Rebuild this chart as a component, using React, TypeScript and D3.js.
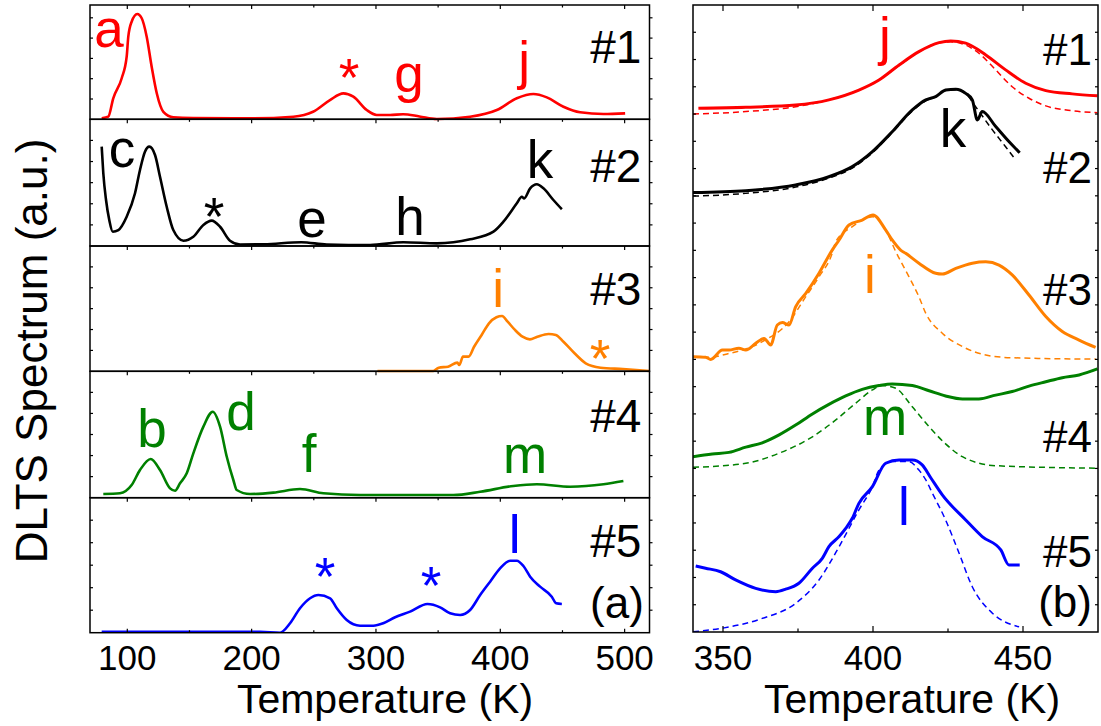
import React from "react";
import * as d3 from "d3";

type Pt = [number, number];

const FONT = "'Liberation Sans', Arial, Helvetica, sans-serif";

// ---------- Panel (a): DLTS spectra, temperature (K) vs normalized signal ----------
const sample1A: Pt[] = [[79.4,0.009],[84.7,0.023],[88.7,0.184],[95.5,0.359],[99.5,0.548],[100.8,0.723],[103.5,0.854],[108,0.921],[111.6,0.884],[115.6,0.723],[119.6,0.46],[123.7,0.228],[129,0.066],[137,0.018],[153,0.011],[200,0.008],[233.6,0.023],[249.4,0.066],[263,0.168],[273.8,0.227],[281.8,0.198],[292.6,0.081],[300.6,0.038],[311.3,0.038],[321.8,0.044],[335,0.025],[348.9,0.003],[375.7,0.023],[397.2,0.081],[413.3,0.184],[426.6,0.221],[437.4,0.192],[450.8,0.11],[464.2,0.061],[483,0.046],[500.4,0.052]];
const sample2A: Pt[] = [[79.4,0.784],[80.7,0.574],[82.9,0.363],[85.5,0.205],[88.3,0.113],[92.8,0.126],[99.5,0.231],[106.2,0.416],[110.2,0.6],[114.2,0.744],[117.7,0.784],[122.3,0.718],[126.3,0.547],[131.7,0.31],[137,0.126],[145.1,0.042],[153.1,0.073],[161.2,0.166],[167.9,0.2],[174.6,0.152],[182.6,0.042],[190.7,0.012],[210,0.014],[240,0.03],[260.4,0.012],[295.3,0.008],[322.1,0.03],[348.9,0.021],[375.7,0.053],[394.5,0.113],[402.5,0.192],[413.3,0.337],[417.3,0.389],[419.2,0.376],[424,0.455],[429.4,0.487],[434.7,0.455],[442.7,0.363],[449.5,0.29]];
const sample3A: Pt[] = [[301.2,0.002],[346.1,0.002],[350.5,0.029],[358,0.037],[365.5,0.069],[367,0.05],[370,0.117],[374.5,0.117],[378.9,0.196],[385,0.29],[390.9,0.383],[396.9,0.431],[401.4,0.441],[405.9,0.396],[411.8,0.33],[417.9,0.276],[423.8,0.255],[429.8,0.276],[438.8,0.298],[444.7,0.29],[450.8,0.236],[459.7,0.144],[468.7,0.064],[480.6,0.029],[498.6,0.018],[520,0.002]];
const sample4A: Pt[] = [[80.7,0.029],[94.1,0.035],[103.5,0.1],[110.2,0.219],[118.8,0.306],[126.3,0.219],[134.4,0.074],[138.4,0.055],[142.4,0.114],[147.8,0.193],[153.1,0.351],[161.2,0.562],[168.7,0.68],[174.6,0.562],[180,0.324],[185.3,0.14],[188,0.061],[198.7,0.029],[217.5,0.04],[238.9,0.069],[257.7,0.035],[287.2,0.021],[362.3,0.021],[383.8,0.047],[410.5,0.093],[429.4,0.106],[456.2,0.087],[483,0.106],[499,0.132]];
const sample5A: Pt[] = [[79.4,0.007],[206.8,0.007],[222.9,0],[230.9,0.07],[238.9,0.181],[247,0.255],[253.7,0.279],[263.1,0.255],[268.5,0.181],[276.5,0.094],[287.2,0.052],[297.9,0.052],[305.9,0.07],[315.4,0.114],[327.4,0.156],[341.4,0.213],[351.6,0.188],[359.6,0.144],[367.7,0.131],[375.7,0.168],[383.8,0.279],[391.8,0.378],[399.8,0.477],[407.9,0.533],[413.3,0.533],[418.6,0.494],[424,0.415],[432,0.341],[441.4,0.267],[444.9,0.218],[449.5,0.213]];

// ---------- Panel (b): zoom 340-475 K, measured (solid) and fitted (dashed) ----------
const sample1B: Pt[] = [[341.8,19.21],[357.6,19.25],[374.2,19.33],[385.3,19.52],[395.3,19.88],[402,20.25],[408.7,20.8],[415.3,21.29],[422,21.62],[425.9,21.68],[430.9,21.6],[437.6,21.17],[444.2,20.62],[450.9,20.13],[457.6,19.86],[466.4,19.74],[474.8,19.67]];
const fit1B: Pt[] = [[340,19.0],[357.6,19.09],[374.2,19.27],[385.3,19.52],[395.3,19.88],[402,20.25],[408.7,20.78],[415.3,21.28],[422,21.61],[425.9,21.65],[430.9,21.53],[435.3,21.23],[440.9,20.62],[446.4,20.0],[452,19.58],[457.6,19.3],[466.4,19.12],[474.8,19.05]];
const sample2B: Pt[] = [[340,16.12],[357.6,16.19],[374.2,16.4],[385.3,16.7],[393.1,17.07],[399.8,17.62],[406.4,18.35],[413.1,19.15],[417.6,19.52],[420.9,19.64],[424.2,19.88],[427.6,19.91],[430.9,19.76],[433.1,19.52],[434.8,18.78],[436.4,19.09],[440.9,18.54],[445.3,17.99],[448.9,17.58]];
const fit2B: Pt[] = [[340,15.99],[357.6,16.09],[374.2,16.32],[385.3,16.65],[393.1,17.02],[399.8,17.58],[406.4,18.32],[413.1,19.11],[417.6,19.48],[420.9,19.63],[424.2,19.86],[427.6,19.89],[430.9,19.75],[434.2,19.27],[439.8,18.42],[444.2,17.8],[447.6,17.31]];
const sample3B: Pt[] = [[340,10.1],[344.2,10.08],[345.9,10.0],[349.8,10.34],[352,10.34],[355.3,10.41],[357.6,10.34],[360.9,10.59],[363.7,10.77],[365.9,10.53],[368.1,11.26],[369.8,11.35],[372,11.26],[374.2,11.93],[377.6,12.42],[382,13.16],[386.4,14.01],[388.7,14.38],[392,14.93],[396.4,15.11],[400,15.3],[404.2,14.75],[406.4,14.38],[409.2,14.01],[410.9,13.89],[415.3,13.53],[420.9,13.16],[423.1,13.13],[427.6,13.34],[433.1,13.53],[437.6,13.58],[442,13.46],[446.4,13.1],[452,12.36],[457.6,11.57],[463.1,11.02],[468.7,10.71],[474.2,10.44]];
const fit3B: Pt[] = [[340,10.1],[346.4,10.08],[349.8,10.16],[363.1,10.65],[372,11.38],[377.6,12.3],[382,13.03],[386.4,13.89],[387.6,14.32],[393.1,14.87],[400,15.23],[404.2,14.75],[407.6,13.95],[412,13.03],[415.3,12.3],[417.6,11.69],[423.1,10.96],[429.8,10.47],[437.6,10.16],[446.4,10.06],[474.2,10.01]];
const sample4B: Pt[] = [[340,6.43],[346.4,6.53],[352,6.59],[357.6,6.78],[363.1,6.94],[368.7,7.23],[374.2,7.59],[379.8,8.0],[385.3,8.35],[390.9,8.66],[396.4,8.9],[402,9.04],[406.4,9.1],[413.1,9.04],[418.7,8.85],[424.2,8.66],[429.8,8.55],[435.3,8.55],[440.9,8.69],[446.4,8.82],[452,9.02],[457.6,9.18],[463.1,9.33],[468.7,9.43],[474.8,9.65]];
const fit4B: Pt[] = [[340,6.04],[357.6,6.19],[368.7,6.56],[379.8,7.16],[387.6,7.78],[394.2,8.39],[399.8,8.88],[403.1,9.04],[407.6,8.94],[413.1,8.26],[418.7,7.53],[424.2,6.9],[429.8,6.43],[440.9,6.1],[474.8,6.01]];
const sample5B: Pt[] = [[340.9,2.42],[344.2,2.34],[349.2,2.21],[354.2,1.91],[360.9,1.6],[367.6,1.48],[370.9,1.57],[375.3,1.79],[379.8,2.34],[383.1,2.7],[385.3,3.13],[388.7,3.5],[390.9,3.8],[393.1,4.17],[395.3,4.72],[399.8,5.33],[404.2,6.19],[408.7,6.31],[413.1,6.31],[416.4,6.13],[419.3,5.65],[423.1,5.03],[430.9,4.11],[436.4,3.5],[442.6,3.01],[445.3,2.46],[448.9,2.46]];
const fit5B: Pt[] = [[340,0.01],[349.8,0.14],[363.1,0.5],[374.2,1.05],[382,1.91],[388.7,3.13],[395.3,4.48],[399.8,5.33],[402,5.94],[406.4,6.25],[412,6.25],[415.3,5.94],[417.6,5.58],[419.8,5.09],[424.2,4.11],[428.7,2.89],[433.1,1.66],[439.8,0.69],[448.7,0.19]];

const sampleColors = ["#ff0000", "#000000", "#ff8000", "#008000", "#0000ff"];
const sampleNames = ["#1", "#2", "#3", "#4", "#5"];

const leftMajorTicks = [100, 200, 300, 400, 500];
const leftMinorTicks = [150, 250, 350, 450];
const rightMajorTicks = [350, 400, 450];
const rightMinorTicks = [375, 425];

// peak labels: [subpanel, temperature, value, text, colorIndex]
type Ann = [number, number, number, string, number];
const peakLabelsA: Ann[] = [
  [0, 85.3, 0.635, "a", 0], [0, 278.4, 0.204, "*", 0], [0, 326.6, 0.239, "g", 0], [0, 419.2, 0.353, "j", 0],
  [1, 95.7, 0.624, "c", 1], [1, 169.8, 0.087, "*", 1], [1, 248.6, 0.071, "e", 1], [1, 327.4, 0.087, "h", 1], [1, 432, 0.537, "k", 1],
  [2, 398.2, 0.516, "i", 2], [2, 480.3, -0.045, "*", 2],
  [3, 119.9, 0.401, "b", 3], [3, 191.5, 0.536, "d", 3], [3, 246.2, 0.204, "f", 3], [3, 420, 0.193, "m", 3],
  [4, 259, 0.279, "*", 4], [4, 344.3, 0.213, "*", 4], [4, 411.5, 0.59, "l", 4],
];
const nameLevelsA = [0.493, 0.505, 0.529, 0.52, 0.561];
const peakLabelsB: [number, number, string, number][] = [
  [404, 21.17, "j", 0], [426.7, 17.79, "k", 1], [399, 12.44, "i", 2], [404, 7.23, "m", 3], [410.3, 3.93, "l", 4],
];
const nameLevelsB = [20.8, 16.47, 12.0, 6.6, 2.38];

export default function App() {
  const W = 1101, H = 726;
  const xL = d3.scaleLinear().domain([70, 520]).range([90, 649.5]);
  const bounds = [5, 119.3, 246, 371.3, 497.7, 632.7];
  const yL = [0, 1, 2, 3, 4].map((i) => d3.scaleLinear().domain([0, 1]).range([bounds[i + 1], bounds[i]]));
  const tickStepL = [0.1776, 1 / 6, 1 / 6, 1 / 6, 1 / 6];
  const xR = d3.scaleLinear().domain([340, 475]).range([693, 1098]);
  const yR = d3.scaleLinear().domain([0, 23]).range([632, 5]);
  const rTop = 5, rBot = 632;

  const seriesA = [sample1A, sample2A, sample3A, sample4A, sample5A];
  const seriesB = [sample1B, sample2B, sample3B, sample4B, sample5B];
  const fitsB = [fit1B, fit2B, fit3B, fit4B, fit5B];

  const lineA = (i: number) =>
    d3.line<Pt>().x((d) => xL(d[0])).y((d) => yL[i](d[1])).curve(d3.curveMonotoneX);
  const lineB = d3.line<Pt>().x((d) => xR(d[0])).y((d) => yR(d[1])).curve(d3.curveMonotoneX);

  const axisColor = "#000";
  const frameW = 1.5;

  const leftTicksEls: JSX.Element[] = [];
  for (let i = 0; i < 5; i++) {
    const top = bounds[i], bot = bounds[i + 1];
    // top x ticks (inward)
    leftMajorTicks.forEach((t) =>
      leftTicksEls.push(<line key={`tm${i}-${t}`} x1={xL(t)} x2={xL(t)} y1={top} y2={top + 4} stroke={axisColor} strokeWidth={1.2} />)
    );
    leftMinorTicks.forEach((t) =>
      leftTicksEls.push(<line key={`tn${i}-${t}`} x1={xL(t)} x2={xL(t)} y1={top} y2={top + 2.5} stroke={axisColor} strokeWidth={1.2} />)
    );
    // y ticks
    for (let v = tickStepL[i]; v < 0.99; v += tickStepL[i]) {
      const y = yL[i](v);
      leftTicksEls.push(<line key={`yl${i}-${v}`} x1={xL(70)} x2={xL(70) + 3} y1={y} y2={y} stroke={axisColor} strokeWidth={1.2} />);
      leftTicksEls.push(<line key={`yr${i}-${v}`} x1={xL(520)} x2={xL(520) + 3} y1={y} y2={y} stroke={axisColor} strokeWidth={1.2} />);
    }
  }
  leftMajorTicks.forEach((t) =>
    leftTicksEls.push(<line key={`bm${t}`} x1={xL(t)} x2={xL(t)} y1={bounds[5]} y2={bounds[5] - 4} stroke={axisColor} strokeWidth={1.2} />)
  );
  leftMinorTicks.forEach((t) =>
    leftTicksEls.push(<line key={`bn${t}`} x1={xL(t)} x2={xL(t)} y1={bounds[5]} y2={bounds[5] - 2.5} stroke={axisColor} strokeWidth={1.2} />)
  );

  const rightTicksEls: JSX.Element[] = [];
  rightMajorTicks.forEach((t) => {
    rightTicksEls.push(<line key={`rt${t}`} x1={xR(t)} x2={xR(t)} y1={rTop} y2={rTop + 6} stroke={axisColor} strokeWidth={1.2} />);
    rightTicksEls.push(<line key={`rb${t}`} x1={xR(t)} x2={xR(t)} y1={rBot} y2={rBot - 6} stroke={axisColor} strokeWidth={1.2} />);
  });
  rightMinorTicks.forEach((t) => {
    rightTicksEls.push(<line key={`rtn${t}`} x1={xR(t)} x2={xR(t)} y1={rTop} y2={rTop + 3.5} stroke={axisColor} strokeWidth={1.2} />);
    rightTicksEls.push(<line key={`rbn${t}`} x1={xR(t)} x2={xR(t)} y1={rBot} y2={rBot - 3.5} stroke={axisColor} strokeWidth={1.2} />);
  });
  d3.range(1, 23).forEach((v) => {
    const y = yR(v);
    rightTicksEls.push(<line key={`ryl${v}`} x1={xR(340)} x2={xR(340) + 3} y1={y} y2={y} stroke={axisColor} strokeWidth={1.2} />);
    rightTicksEls.push(<line key={`ryr${v}`} x1={xR(475)} x2={xR(475) - 3} y1={y} y2={y} stroke={axisColor} strokeWidth={1.2} />);
  });

  return (
    <svg width={W} height={H} style={{ position: "absolute", left: 0, top: 0, background: "#fff" }} fontFamily={FONT}>
      <defs>
        <clipPath id="clipL">
          <rect x={xL(70)} y={bounds[0]} width={xL(520) - xL(70)} height={bounds[5] - bounds[0]} />
        </clipPath>
        <clipPath id="clipR">
          <rect x={xR(340)} y={rTop} width={xR(475) - xR(340)} height={rBot - rTop} />
        </clipPath>
      </defs>
      <rect x={0} y={0} width={W} height={H} fill="#fff" />

      {/* Left panel curves */}
      <g clipPath="url(#clipL)">
        {seriesA.map((s, i) => (
          <path key={`la${i}`} d={lineA(i)(s) || ""} fill="none" stroke={sampleColors[i]} strokeWidth={2.6} strokeLinejoin="round" />
        ))}
      </g>

      {/* Right panel curves */}
      <g clipPath="url(#clipR)">
        {fitsB.map((s, i) => (
          <path key={`fb${i}`} d={lineB(s) || ""} fill="none" stroke={sampleColors[i]} strokeWidth={1.5} strokeDasharray="6 4" />
        ))}
        {seriesB.map((s, i) => (
          <path key={`sb${i}`} d={lineB(s) || ""} fill="none" stroke={sampleColors[i]} strokeWidth={3} strokeLinejoin="round" />
        ))}
      </g>

      {/* frames */}
      {[0, 1, 2, 3, 4].map((i) => (
        <rect key={`fr${i}`} x={xL(70)} y={bounds[i]} width={xL(520) - xL(70)} height={bounds[i + 1] - bounds[i]} fill="none" stroke={axisColor} strokeWidth={frameW} />
      ))}
      <rect x={xR(340)} y={rTop} width={xR(475) - xR(340)} height={rBot - rTop} fill="none" stroke={axisColor} strokeWidth={frameW} />
      {leftTicksEls}
      {rightTicksEls}

      {/* tick labels */}
      {leftMajorTicks.map((t) => (
        <text key={`ltl${t}`} x={xL(t)} y={670} fontSize={35} textAnchor="middle">{t}</text>
      ))}
      {rightMajorTicks.map((t) => (
        <text key={`rtl${t}`} x={xR(t)} y={670} fontSize={35} textAnchor="middle">{t}</text>
      ))}

      {/* axis titles */}
      <text x={385} y={713} fontSize={41} textAnchor="middle">Temperature (K)</text>
      <text x={912} y={713} fontSize={41} textAnchor="middle">Temperature (K)</text>
      <text transform="translate(47,351) rotate(-90)" fontSize={44} textAnchor="middle">DLTS Spectrum (a.u.)</text>

      {/* left annotations */}
      {peakLabelsA.map(([p, t, v, txt, c], k) => (
        <text key={`pa${k}`} x={xL(t)} y={yL[p](v)} fontSize={53} textAnchor="middle" fill={sampleColors[c]}>{txt}</text>
      ))}
      {nameLevelsA.map((v, i) => (
        <text key={`na${i}`} x={xL(513.5)} y={yL[i](v)} fontSize={46} textAnchor="end" fill="#000">{sampleNames[i]}</text>
      ))}
      <text x={xL(515.5)} y={yL[4](0.109)} fontSize={44} textAnchor="end">(a)</text>

      {/* right annotations */}
      {peakLabelsB.map(([t, v, txt, c], k) => (
        <text key={`pb${k}`} x={xR(t)} y={yR(v)} fontSize={53} textAnchor="middle" fill={sampleColors[c]}>{txt}</text>
      ))}
      {nameLevelsB.map((v, i) => (
        <text key={`nb${i}`} x={xR(473)} y={yR(v)} fontSize={44} textAnchor="end" fill="#000">{sampleNames[i]}</text>
      ))}
      <text x={xR(473)} y={yR(0.55)} fontSize={44} textAnchor="end">(b)</text>
    </svg>
  );
}
